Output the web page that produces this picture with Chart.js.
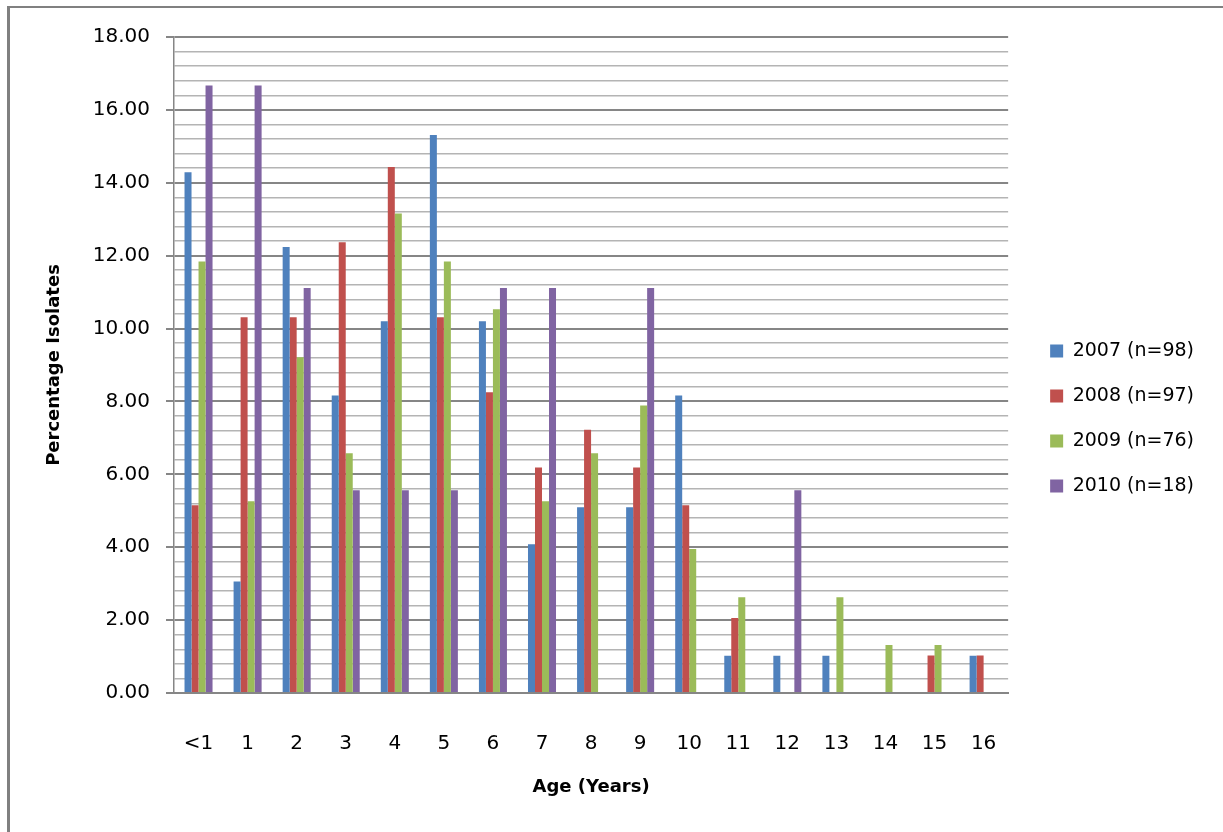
<!DOCTYPE html>
<html>
<head>
<meta charset="utf-8">
<title>Percentage Isolates by Age</title>
<script src="https://cdn.jsdelivr.net/npm/chart.js@4"></script>
<style>
  body { margin: 0; background: #fff; }
  #wrap { position: relative; width: 1223px; height: 832px; overflow: hidden; }
  #frame {
    position: absolute; left: 7px; top: 6px; width: 1300px; height: 900px;
    border-left: 3px solid #808080; border-top: 2px solid #808080;
    pointer-events: none;
  }
</style>
</head>
<body>
<div id="wrap">
  <canvas id="chart" width="1223" height="832"></canvas>
  <div id="frame"></div>
</div>
<script>
// age groups on the x axis
const ages = ["<1", "1", "2", "3", "4", "5", "6", "7", "8", "9", "10", "11", "12", "13", "14", "15", "16"];

// percentage of isolates per year
const pct2007 = [14.29, 3.06, 12.24, 8.16, 10.20, 15.31, 10.20, 4.08, 5.10, 5.10, 8.16, 1.02, 1.02, 1.02, 0, 0, 1.02];
const pct2008 = [5.15, 10.31, 10.31, 12.37, 14.43, 10.31, 8.25, 6.19, 7.22, 6.19, 5.15, 2.06, 0, 0, 0, 1.03, 1.03];
const pct2009 = [11.84, 5.26, 9.21, 6.58, 13.16, 11.84, 10.53, 5.26, 6.58, 7.89, 3.95, 2.63, 0, 2.63, 1.32, 1.32, 0];
const pct2010 = [16.67, 16.67, 11.11, 5.56, 5.56, 5.56, 11.11, 11.11, 0, 11.11, 0, 0, 5.56, 0, 0, 0, 0];

const seriesNames = ["2007 (n=98)", "2008 (n=97)", "2009 (n=76)", "2010 (n=18)"];
const seriesColors = ["#4F81BD", "#C0504D", "#9BBB59", "#8064A2"];

const FONT = "'DejaVu Sans', sans-serif";

function isMajor(v) {
  return Math.abs(v / 2 - Math.round(v / 2)) < 1e-6;
}

// nudge the legend so it sits like the original one
const legendShift = {
  id: "legendShift",
  afterLayout(chart) {
    const lg = chart.legend;
    lg.left += 16; lg.right += 16;
    lg.top -= 16; lg.bottom -= 16;
  }
};

const ctx = document.getElementById("chart").getContext("2d");
const chart = new Chart(ctx, {
  type: "bar",
  data: {
    labels: ages,
    datasets: [pct2007, pct2008, pct2009, pct2010].map((d, i) => ({
      label: seriesNames[i],
      data: d,
      backgroundColor: seriesColors[i],
      borderWidth: 0,
      categoryPercentage: 0.571,
      barPercentage: 1.0,
    })),
  },
  options: {
    responsive: false,
    animation: false,
    layout: { padding: { left: 10, top: 37, right: 35, bottom: 0 } },
    plugins: {
      tooltip: { enabled: false },
      legend: {
        position: "right",
        labels: {
          boxWidth: 13,
          boxHeight: 13,
          padding: 26,
          color: "#000",
          font: { family: FONT, size: 19 },
        },
      },
    },
    scales: {
      x: {
        grid: { display: false },
        border: { display: true, color: "#868686", width: 2 },
        ticks: {
          color: "#000",
          padding: 31,
          font: { family: FONT, size: 20 },
          maxRotation: 0,
        },
        title: {
          display: true,
          text: "Age (Years)",
          color: "#000",
          padding: { top: 0, bottom: 34 },
          font: { family: FONT, size: 18, weight: "bold" },
        },
        afterFit(scale) { scale.height = 139; },
      },
      y: {
        min: 0,
        max: 18,
        border: { display: true, color: "#868686", width: 1.5 },
        grid: {
          color: (c) => (isMajor(c.tick.value) ? "#868686" : "#b4b4b4"),
          lineWidth: (c) => (isMajor(c.tick.value) ? 2 : 1.5),
          tickColor: (c) => (isMajor(c.tick.value) ? "#868686" : "rgba(0,0,0,0)"),
          tickLength: 8,
        },
        ticks: {
          stepSize: 0.4,
          autoSkip: false,
          padding: 16,
          color: "#000",
          font: { family: FONT, size: 20 },
          callback: (v) => (isMajor(v) ? Number(v).toFixed(2) : ""),
        },
        title: {
          display: true,
          text: "Percentage Isolates",
          color: "#000",
          padding: { top: 34, bottom: 0 },
          font: { family: FONT, size: 18, weight: "bold" },
        },
        afterFit(scale) { scale.width = 164; },
      },
    },
  },
  plugins: [legendShift],
});
</script>
</body>
</html>
